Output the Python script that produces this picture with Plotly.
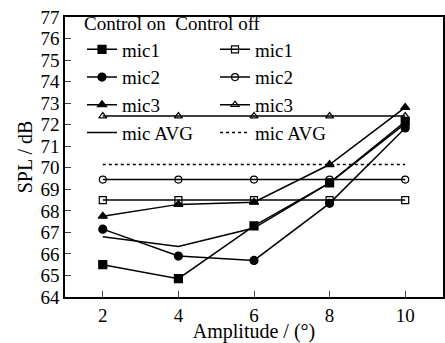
import plotly.graph_objects as go

amplitude = [2, 4, 6, 8, 10]
on_mic1 = [65.5, 64.85, 67.3, 69.3, 72.15]
on_mic2 = [67.15, 65.9, 65.7, 68.35, 71.85]
on_mic3 = [67.75, 68.3, 68.4, 70.15, 72.8]
on_avg = [66.8, 66.35, 67.2, 69.3, 72.05]
off_mic1 = [68.5, 68.5, 68.5, 68.5, 68.5]
off_mic2 = [69.45, 69.45, 69.45, 69.45, 69.45]
off_mic3 = [72.4, 72.4, 72.4, 72.4, 72.4]
off_avg = [70.15, 70.15, 70.15, 70.15, 70.15]

font = "Liberation Serif"
fig = go.Figure()

def add(y, name, symbol=None, dash="solid", size=8):
    mode = "lines+markers" if symbol else "lines"
    kw = dict(x=amplitude, y=y, name=name, mode=mode,
              line=dict(color="black", width=1.5, dash=dash))
    if symbol:
        kw["marker"] = dict(symbol=symbol, size=size, color="black",
                            line=dict(color="black", width=1.2))
    fig.add_trace(go.Scatter(**kw))

add(on_mic1, "mic1", "square")
add(off_mic1, "mic1", "square-open", size=7)
add(on_mic2, "mic2", "circle")
add(off_mic2, "mic2", "circle-open", size=7)
add(on_mic3, "mic3", "triangle-up")
add(off_mic3, "mic3", "triangle-up-open", size=7)
add(on_avg, "mic AVG")
add(off_avg, "mic AVG", dash="dot")

fig.update_layout(
    width=445, height=343,
    margin=dict(l=65, r=2, t=17, b=46),
    paper_bgcolor="white", plot_bgcolor="white",
    font=dict(family=font, size=18, color="black"),
    showlegend=True,
    legend=dict(orientation="h", x=0.045, y=1.04, xanchor="left", yanchor="top",
                entrywidthmode="pixels", entrywidth=88,
                bgcolor="rgba(0,0,0,0)", tracegroupgap=0,
                itemwidth=30,
                font=dict(family=font, size=19),
                title=dict(text="Control on  Control off", side="top",
                           font=dict(family=font, size=19))),
    xaxis=dict(range=[1, 11], tickvals=amplitude, ticks="inside", ticklen=6,
               showline=True, linecolor="black", linewidth=1.5, mirror=True,
               showgrid=False, zeroline=False, automargin=False,
               title=dict(text="Amplitude / (°)", standoff=3,
                          font=dict(family=font, size=20)),
               tickfont=dict(family=font, size=19)),
    yaxis=dict(range=[64, 77], dtick=1, ticks="inside", ticklen=6,
               showline=True, linecolor="black", linewidth=1.5, mirror=True,
               showgrid=False, zeroline=False, automargin=False,
               title=dict(text="SPL / dB", standoff=2,
                          font=dict(family=font, size=20)),
               tickfont=dict(family=font, size=19)),
)
fig.write_html("out.html", config={"displayModeBar": False},
               post_script="document.body.style.margin='0';document.body.style.overflow='hidden';")
